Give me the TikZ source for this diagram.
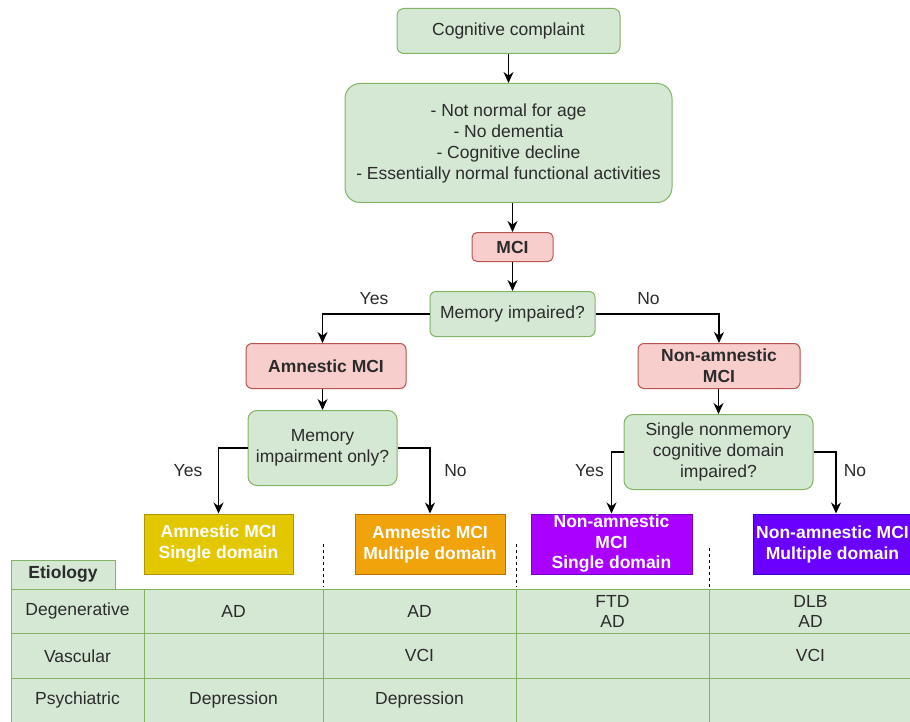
\documentclass[tikz,border=0pt]{standalone}
\usepackage{fontspec}
\setmainfont{Liberation Sans}
\definecolor{boxgreen}{HTML}{D5E8D4}
\definecolor{linegreen}{HTML}{82B366}
\definecolor{boxred}{HTML}{F8CECC}
\definecolor{linered}{HTML}{B85450}
\definecolor{inkgray}{HTML}{2B2B2B}
\definecolor{mustardfill}{HTML}{E3C800}
\definecolor{mustardline}{HTML}{B09500}
\definecolor{amberfill}{HTML}{F0A30A}
\definecolor{amberline}{HTML}{BD7000}
\definecolor{violetfill}{HTML}{AA00FF}
\definecolor{violetline}{HTML}{7700CC}
\definecolor{indigofill}{HTML}{6A00FF}
\definecolor{indigoline}{HTML}{3700CC}
\usetikzlibrary{arrows.meta}
\newcommand{\diagfont}{\fontsize{17.5}{21}\selectfont}

\begin{document}
\begin{tikzpicture}[
    x=1pt, y=-1pt,
    every node/.style={font=\diagfont, text=inkgray, align=center},
    greenbox/.style={draw=linegreen, fill=boxgreen, line width=1pt,
      rounded corners=7pt, inner sep=0pt},
    redbox/.style={draw=linered, fill=boxred, line width=1pt,
      rounded corners=5pt, inner sep=0pt, font=\diagfont\bfseries},
    domainbox/.style={line width=1pt, inner sep=0pt, minimum height=60,
      text=white, font=\diagfont\bfseries},
    cell/.style={draw=linegreen, fill=boxgreen, line width=1pt,
      inner sep=0pt, minimum height=44.5},
    flow/.style={-{Stealth[length=11pt,width=10pt]}, line width=1.2pt, black},
    divider/.style={dash pattern=on 3pt off 3pt, line width=1pt, black},
  ]
    \useasboundingbox (0,0) rectangle (910,722);

    \node[greenbox, minimum width=223, minimum height=45] (complaint) at (508.5,31) {Cognitive complaint};
    \node[greenbox, rounded corners=15pt, minimum width=327, minimum height=119] (criteria) at (508.5,143)
      {- Not normal for age\\- No dementia\\- Cognitive decline\\- Essentially normal functional activities};
    \node[redbox, minimum width=81, minimum height=29] (mci) at (512.5,247) {MCI};
    \node[greenbox, rounded corners=6pt, minimum width=165, minimum height=45] (memq) at (512.5,314) {Memory impaired?};
    \node[redbox, rounded corners=6pt, minimum width=160, minimum height=45] (amn) at (326,366) {Amnestic MCI};
    \node[redbox, rounded corners=6pt, minimum width=162, minimum height=45] (nonamn) at (719,366) {Non-amnestic\\MCI};
    \node[greenbox, rounded corners=9pt, minimum width=149, minimum height=75] (mio) at (322.5,448) {Memory\\impairment only?};
    \node[greenbox, rounded corners=9pt, minimum width=189, minimum height=75] (snd) at (718.5,452)
      {Single nonmemory\\cognitive domain\\impaired?};

    \node[domainbox, draw=mustardline, fill=mustardfill, minimum width=149] (single1) at (218.5,544) {Amnestic MCI\\Single domain};
    \node[domainbox, draw=amberline, fill=amberfill, minimum width=150] (multi1) at (430,544) {Amnestic MCI\\Multiple domain};
    \node[domainbox, draw=violetline, fill=violetfill, minimum width=161, font=\fontsize{17.5}{20.5}\selectfont\bfseries] (single2) at (611.5,544)
      {Non-amnestic\\MCI\\Single domain};
    \node[domainbox, draw=indigoline, fill=indigofill, minimum width=159] (multi2) at (832.5,544) {Non-amnestic MCI\\Multiple domain};

    \draw[flow] (complaint) -- (criteria);
    \draw[flow] (criteria.south -| mci) -- (mci);
    \draw[flow] (mci) -- (memq);
    \draw[flow] (memq.west) -| (amn.north -| mio.north);
    \draw[flow] (memq.east) -| (nonamn.north);
    \draw[flow] (amn.south -| mio.north) -- (mio.north);
    \draw[flow] (nonamn.south -| snd.north) -- (snd.north);
    \draw[flow] (mio.west) -| (single1.north);
    \draw[flow] (mio.east) -| (multi1.north);
    \draw[flow] (snd.west) -| (single2.north);
    \draw[flow] (snd.east) -| ([xshift=3.5pt]multi2.north);

    \node (yes1) at (374,299) {Yes};
    \node (no1) at (648.5,299) {No};
    \node (yes2) at (188,471) {Yes};
    \node (no2) at (455.5,471) {No};
    \node (yes3) at (589.5,471) {Yes};
    \node (no3) at (855,471) {No};

    \draw[divider] (323,544) -- (323,587);
    \draw[divider] (516,544) -- (516,587);
    \draw[divider] (709,548) -- (709,589);

    \node[cell, minimum width=104, minimum height=29, font=\diagfont\bfseries] (etio) at (63,574.5) {Etiology};

    \node[cell, minimum width=133] (degen) at (77.5,611.25) {Degenerative};
    \node[cell, minimum width=179] (d1) at (233.5,611.25) {AD};
    \node[cell, minimum width=193] (d2) at (419.5,611.25) {AD};
    \node[cell, minimum width=193, font=\fontsize{17.5}{20}\selectfont] (d3) at (612.5,611.25) {FTD\\AD};
    \node[cell, minimum width=203, font=\fontsize{17.5}{20}\selectfont] (d4) at (810.5,611.25) {DLB\\AD};

    \node[cell, minimum width=133] (vasc) at (77.5,655.75) {Vascular};
    \node[cell, minimum width=179] (v1) at (233.5,655.75) {};
    \node[cell, minimum width=193] (v2) at (419.5,655.75) {VCI};
    \node[cell, minimum width=193] (v3) at (612.5,655.75) {};
    \node[cell, minimum width=203] (v4) at (810.5,655.75) {VCI};

    \node[cell, minimum width=133] (psych) at (77.5,700.25) {Psychiatric};
    \node[cell, minimum width=179] (p1) at (233.5,700.25) {Depression};
    \node[cell, minimum width=193] (p2) at (419.5,700.25) {Depression};
    \node[cell, minimum width=193] (p3) at (612.5,700.25) {};
    \node[cell, minimum width=203] (p4) at (810.5,700.25) {};
  \end{tikzpicture}
\end{document}
